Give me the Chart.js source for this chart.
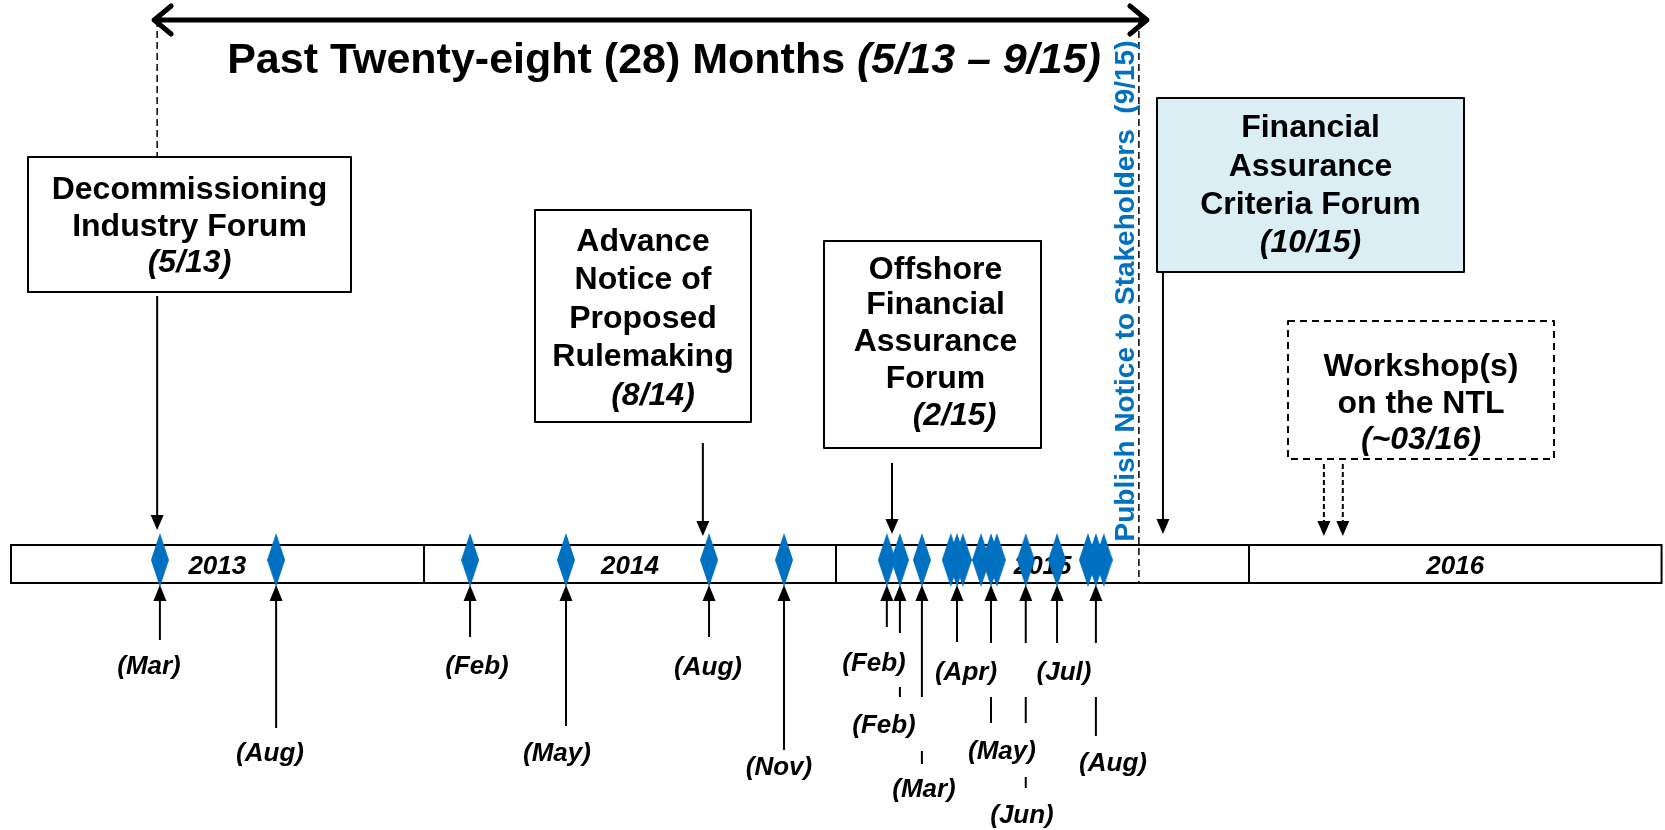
<!DOCTYPE html>
<html>
<head>
<meta charset="utf-8">
<script src="https://cdn.jsdelivr.net/npm/chart.js@4/dist/chart.umd.min.js"></script>
<style>
  html, body { margin: 0; padding: 0; background: #fff; }
  #wrap { width: 1665px; height: 830px; }
</style>
</head>
<body>
<div id="wrap"><canvas id="timeline" width="1665" height="830"></canvas></div>
<script>
// ===========================================
// DATA (x values are months counted from Jan 2013)
// ===========================================
const years = ['2013', '2014', '2015', '2016'];
const yearStartMonths = [0, 12, 24, 36, 48];

// blue diamonds on the timeline
const eventMonths = [
  4.33, 7.71, 13.35, 16.14, 20.30, 22.48,
  25.47, 25.85, 26.49, 27.33, 27.51, 27.68, 28.21, 28.50, 28.67,
  29.51, 30.42, 31.32, 31.55, 31.78
];

// month labels under the timeline, and which diamond they point at
const belowLabels = ['(Mar)', '(Aug)', '(Feb)', '(May)', '(Aug)', '(Nov)',
  '(Feb)', '(Feb)', '(Mar)', '(Apr)', '(May)', '(Jun)', '(Jul)', '(Aug)'];
const belowEventIndex = [0, 1, 2, 3, 4, 5, 6, 7, 8, 10, 13, 15, 16, 18];

// milestone boxes above the timeline
const boxTitles = [
  ['Decommissioning', 'Industry Forum'],
  ['Advance', 'Notice of', 'Proposed', 'Rulemaking'],
  ['Offshore', 'Financial', 'Assurance', 'Forum'],
  ['Financial', 'Assurance', 'Criteria Forum'],
  ['Workshop(s)', 'on the NTL']
];
const boxDates = ['(5/13)', '(8/14)', '(2/15)', '(10/15)', '(~03/16)'];
const boxArrowMonths = [[4.25], [20.12], [25.62], [33.50], [38.18, 38.73]];

// covered period
const periodStartMonth = 4.25;   // 5/13
const periodEndMonth = 32.80;    // 9/15
const titleMain = 'Past Twenty-eight (28) Months ';
const titleRange = '(5/13 \u2013 9/15)';
const noticeText = 'Publish Notice to Stakeholders  (9/15)';

// ===========================================
// LAYOUT
// ===========================================
const FONT = '"Liberation Sans", Arial, sans-serif';
const BLUE = '#0070C0';
const barTop = 545, barBottom = 583, timelineY = 560;

const boxLayout = [
  { x0: 28,   y0: 157, x1: 351,  y1: 292, lines: [190, 227, 263], dx: 0, dateDx: 0, from: 296, tip: 530 },
  { x0: 535,  y0: 210, x1: 751,  y1: 422, lines: [242, 280, 319, 357, 396], dx: 0, dateDx: 10, from: 443, tip: 536 },
  { x0: 824,  y0: 241, x1: 1041, y1: 448, lines: [270, 305, 342, 379, 416], dx: 3, dateDx: 22, from: 463, tip: 534 },
  { x0: 1157, y0: 98,  x1: 1464, y1: 272, lines: [128, 167, 205, 243], dx: 0, dateDx: 0, from: 272, tip: 534, fill: '#DAEEF3' },
  { x0: 1288, y0: 321, x1: 1554, y1: 459, lines: [367, 404, 440], dx: 0, dateDx: 0, from: 464, tip: 536, dashed: true }
];

const belowLabelPos = [
  [149, 667], [270, 754], [477, 667], [557, 754], [708, 668], [779, 768],
  [874, 664], [884, 726], [924, 790], [966, 673], [1002, 752], [1022, 816], [1064, 673], [1113, 764]
];
const belowSegments = [
  [[600, 640]], [[600, 728]], [[600, 637]], [[600, 726]], [[600, 637]], [[600, 750]],
  [[600, 627]], [[600, 633], [687, 697]], [[600, 697], [751, 764]], [[600, 642]],
  [[600, 643], [697, 723]], [[600, 643], [697, 723], [777, 788]], [[600, 643]], [[600, 643], [697, 736]]
];

// diamond marker
const diamond = document.createElement('canvas');
diamond.width = 18;
diamond.height = 54;
(function () {
  const c = diamond.getContext('2d');
  c.fillStyle = BLUE;
  c.beginPath();
  c.moveTo(9, 0);
  c.lineTo(18, 27);
  c.lineTo(9, 54);
  c.lineTo(0, 27);
  c.closePath();
  c.fill();
})();

function arrowHead(ctx, x, tipY, dir, w, len) {
  ctx.beginPath();
  ctx.moveTo(x, tipY);
  ctx.lineTo(x - w / 2, tipY - dir * len);
  ctx.lineTo(x + w / 2, tipY - dir * len);
  ctx.closePath();
  ctx.fill();
}

function vline(ctx, x, y0, y1) {
  ctx.beginPath();
  ctx.moveTo(x, y0);
  ctx.lineTo(x, y1);
  ctx.stroke();
}

// timeline bar and year labels, under the diamonds
const barPlugin = {
  id: 'bar',
  beforeDatasetsDraw(chart) {
    const ctx = chart.ctx;
    const xs = chart.scales.x;
    const yTop = chart.scales.y.getPixelForValue(barTop);
    const yBot = chart.scales.y.getPixelForValue(barBottom);
    const left = xs.getPixelForValue(yearStartMonths[0]);
    const right = xs.getPixelForValue(yearStartMonths[yearStartMonths.length - 1]);
    ctx.save();
    ctx.fillStyle = '#fff';
    ctx.fillRect(left, yTop, right - left, yBot - yTop);
    ctx.strokeStyle = '#000';
    ctx.lineWidth = 2;
    ctx.strokeRect(left, yTop, right - left, yBot - yTop);
    yearStartMonths.slice(1, -1).forEach(m => {
      const px = Math.round(xs.getPixelForValue(m));
      vline(ctx, px, yTop, yBot);
    });
    ctx.fillStyle = '#000';
    ctx.font = 'italic bold 26px ' + FONT;
    ctx.textAlign = 'center';
    ctx.textBaseline = 'middle';
    years.forEach((y, i) => {
      const mid = (yearStartMonths[i] + yearStartMonths[i + 1]) / 2;
      ctx.fillText(y, xs.getPixelForValue(mid), (yTop + yBot) / 2 + 3);
    });
    ctx.restore();
  }
};

// boxes, arrows and texts on top
const notesPlugin = {
  id: 'notes',
  afterDatasetsDraw(chart) {
    const ctx = chart.ctx;
    const xs = chart.scales.x;
    const xStart = xs.getPixelForValue(periodStartMonth);
    const xEnd = xs.getPixelForValue(periodEndMonth);
    ctx.save();
    ctx.strokeStyle = '#000';
    ctx.fillStyle = '#000';

    // period dashed lines
    ctx.lineWidth = 1.5;
    ctx.setLineDash([7, 4]);
    vline(ctx, xStart, 20, boxLayout[0].y0);
    vline(ctx, xEnd, 20, barBottom);
    ctx.setLineDash([]);

    // double arrow over the period
    const ax0 = xStart - 3, ax1 = xEnd + 8, ay = 20;
    ctx.lineWidth = 5;
    ctx.lineCap = 'round';
    ctx.lineJoin = 'round';
    ctx.beginPath();
    ctx.moveTo(ax0, ay); ctx.lineTo(ax1, ay);
    ctx.moveTo(ax0 + 17, ay - 14); ctx.lineTo(ax0, ay); ctx.lineTo(ax0 + 17, ay + 14);
    ctx.moveTo(ax1 - 17, ay - 14); ctx.lineTo(ax1, ay); ctx.lineTo(ax1 - 17, ay + 14);
    ctx.stroke();
    ctx.lineCap = 'butt';

    // title
    ctx.textBaseline = 'middle';
    ctx.textAlign = 'left';
    const fMain = 'bold 43px ' + FONT, fIt = 'italic bold 43px ' + FONT;
    ctx.font = fMain;
    const w1 = ctx.measureText(titleMain).width;
    ctx.font = fIt;
    const w2 = ctx.measureText(titleRange).width;
    const tx = 664 - (w1 + w2) / 2;
    ctx.font = fMain;
    ctx.fillText(titleMain, tx, 61);
    ctx.font = fIt;
    ctx.fillText(titleRange, tx + w1, 61);

    // blue rotated notice
    ctx.save();
    ctx.translate(1125, 291);
    ctx.rotate(-Math.PI / 2);
    ctx.fillStyle = BLUE;
    ctx.font = 'bold 28px ' + FONT;
    ctx.textAlign = 'center';
    ctx.fillText(noticeText, 0, 1);
    ctx.restore();

    // boxes
    boxLayout.forEach((b, i) => {
      ctx.lineWidth = 2;
      if (b.fill) {
        ctx.fillStyle = b.fill;
        ctx.fillRect(b.x0, b.y0, b.x1 - b.x0, b.y1 - b.y0);
      }
      if (b.dashed) ctx.setLineDash([7, 5]);
      ctx.strokeRect(b.x0, b.y0, b.x1 - b.x0, b.y1 - b.y0);
      ctx.setLineDash([]);
      ctx.fillStyle = '#000';
      ctx.textAlign = 'center';
      const cx = (b.x0 + b.x1) / 2;
      const titles = boxTitles[i];
      ctx.font = 'bold 32px ' + FONT;
      titles.forEach((t, k) => ctx.fillText(t, cx + b.dx, b.lines[k]));
      ctx.font = 'italic bold 32px ' + FONT;
      ctx.fillText(boxDates[i], cx + b.dateDx, b.lines[titles.length]);

      // arrows down to the timeline
      boxArrowMonths[i].forEach(m => {
        const px = xs.getPixelForValue(m);
        ctx.lineWidth = 2;
        if (b.dashed) ctx.setLineDash([5, 3]);
        vline(ctx, px, b.from, b.tip - 13);
        ctx.setLineDash([]);
        arrowHead(ctx, px, b.tip, 1, 13, 15);
      });
    });

    // month labels under the timeline
    ctx.font = 'italic bold 26px ' + FONT;
    ctx.textAlign = 'center';
    ctx.lineWidth = 2;
    belowLabels.forEach((lab, i) => {
      const px = xs.getPixelForValue(eventMonths[belowEventIndex[i]]);
      arrowHead(ctx, px, 585, -1, 13, 16);
      belowSegments[i].forEach(s => vline(ctx, px, s[0], s[1]));
      ctx.fillText(lab, belowLabelPos[i][0], belowLabelPos[i][1]);
    });
    ctx.restore();
  }
};

new Chart(document.getElementById('timeline'), {
  type: 'scatter',
  data: {
    datasets: [{
      label: 'Events',
      data: eventMonths.map(m => ({ x: m, y: timelineY })),
      pointStyle: diamond,
      pointRadius: 9,
      pointHoverRadius: 9
    }]
  },
  options: {
    responsive: false,
    animation: false,
    events: [],
    layout: { padding: 0, autoPadding: false },
    plugins: {
      legend: { display: false },
      tooltip: { enabled: false }
    },
    scales: {
      x: { type: 'linear', min: -0.32, max: 48.1, display: false },
      y: { type: 'linear', min: 0, max: 830, reverse: true, display: false }
    }
  },
  plugins: [barPlugin, notesPlugin]
});
</script>
</body>
</html>
